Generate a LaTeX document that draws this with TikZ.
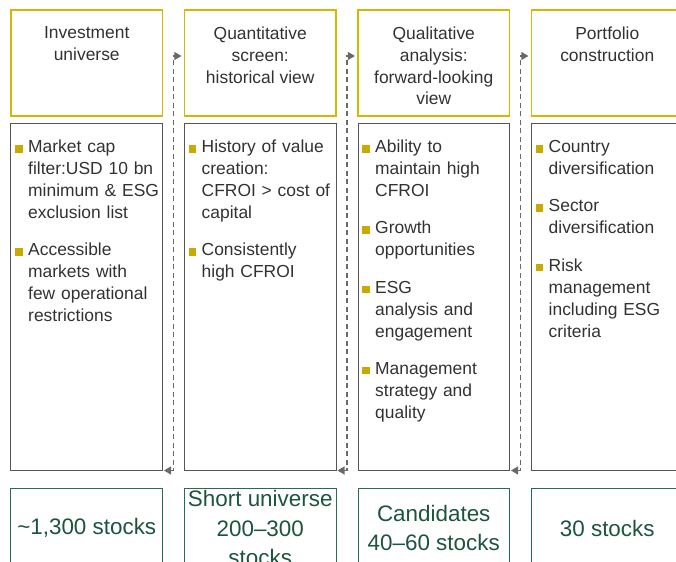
\documentclass[tikz,border=0pt]{standalone}
\usepackage{fontspec}
\setmainfont{Liberation Sans}
\usetikzlibrary{calc,positioning,arrows.meta}

\definecolor{headgold}{RGB}{214,182,0}
\definecolor{bulletgold}{RGB}{201,170,0}
\definecolor{boxgray}{RGB}{85,85,85}
\definecolor{textgray}{RGB}{50,50,50}
\definecolor{stockgreen}{RGB}{38,108,78}
\definecolor{stocktext}{RGB}{28,84,60}
\definecolor{flowgray}{RGB}{105,105,105}

% one bullet item, lines broken by hand
\newcommand{\bul}[1]{\setlength{\lineskip}{0pt}\noindent
  \makebox[13bp][l]{\textcolor{bulletgold}{\rule{7.5bp}{7.5bp}}}%
  \begin{tabular}[t]{@{}l@{}}#1\end{tabular}\par}
\newcommand{\gap}{\vspace{15.5bp}}

\tikzset{
  headbox/.style={draw=headgold, line width=1.2bp, minimum width=151.5bp,
    minimum height=106bp, inner sep=0},
  headtext/.style={anchor=north, inner sep=0, align=center, text=textgray,
    font=\fontsize{17.5}{22}\selectfont},
  bodybox/.style={draw=boxgray, line width=1bp, minimum width=151.5bp,
    minimum height=346bp, inner sep=0},
  bodytext/.style={inner sep=0, text width=145bp, align=left, text=textgray,
    font=\fontsize{17.5}{22}\selectfont},
  stockbox/.style={draw=stockgreen, line width=1bp, minimum width=151.5bp,
    minimum height=80bp, inner sep=0, align=center, text=stocktext,
    font=\fontsize{22.5}{30}\selectfont},
  flow/.style={draw=flowgray, line width=1.1bp, dash pattern=on 5bp off 3.5bp,
    >={Triangle[length=7bp,width=8bp]}, <->},
}

\begin{document}
\begin{tikzpicture}[x=1bp,y=-1bp]
  \path[use as bounding box] (0,0) rectangle (676,562);
  \clip (0,0) rectangle (676,562);

  % headers
  \node[headbox] (h1) at (86.75,63) {};
  \node[headbox] (h2) at (260.25,63) {};
  \node[headbox] (h3) at (433.75,63) {};
  \node[headbox] (h4) at (607.25,63) {};
  \node[headtext, below=17bp of h1.north] (h1t) {Investment\\universe};
  \node[headtext, below=17bp of h2.north] (h2t) {Quantitative\\screen:\\historical view};
  \node[headtext, below=17bp of h3.north] (h3t) {Qualitative\\analysis:\\forward-looking\\view};
  \node[headtext, below=17bp of h4.north] (h4t) {Portfolio\\construction};

  % criteria
  \node[bodybox] (b1) at (86.75,297) {};
  \node[bodybox] (b2) at (260.25,297) {};
  \node[bodybox] (b3) at (433.75,297) {};
  \node[bodybox] (b4) at (607.25,297) {};
  \node[bodytext, below right=13.6bp and 4.5bp of b1.north west] (b1t) {%
    \bul{Market cap\\filter:USD 10 bn\\minimum \& ESG\\exclusion list}\gap
    \bul{Accessible\\markets with\\few operational\\restrictions}};
  \node[bodytext, below right=13.6bp and 4.5bp of b2.north west] (b2t) {%
    \bul{History of value\\creation:\\CFROI > cost of\\capital}\gap
    \bul{Consistently\\high CFROI}};
  \node[bodytext, below right=13.6bp and 4.5bp of b3.north west] (b3t) {%
    \bul{Ability to\\maintain high\\CFROI}\gap
    \bul{Growth\\opportunities}\gap
    \bul{ESG\\analysis and\\engagement}\gap
    \bul{Management\\strategy and\\quality}};
  \node[bodytext, below right=13.6bp and 4.5bp of b4.north west] (b4t) {%
    \bul{Country\\diversification}\gap
    \bul{Sector\\diversification}\gap
    \bul{Risk\\management\\including ESG\\criteria}};

  % number of stocks
  \node[stockbox] (s1) at (86.75,528) {\textasciitilde 1,300 stocks};
  \node[stockbox] (s2) at (260.25,528) {Short universe\\200--300\\stocks};
  \node[stockbox] (s3) at (433.75,528) {Candidates\\40--60 stocks};
  \node[stockbox] (s4) at (607.25,528) {30 stocks};

  % flow between the steps
  \draw[flow] ([xshift=1bp]b1.south east) -| ($(b1.east)!.5!(b2.west)$)
    |- ([xshift=-2.5bp,yshift=7bp]h2.west);
  \draw[flow] ([xshift=1bp]b2.south east) -| ($(b2.east)!.5!(b3.west)$)
    |- ([xshift=-2.5bp,yshift=7bp]h3.west);
  \draw[flow] ([xshift=1bp]b3.south east) -| ($(b3.east)!.5!(b4.west)$)
    |- ([xshift=-2.5bp,yshift=7bp]h4.west);
\end{tikzpicture}
\end{document}
